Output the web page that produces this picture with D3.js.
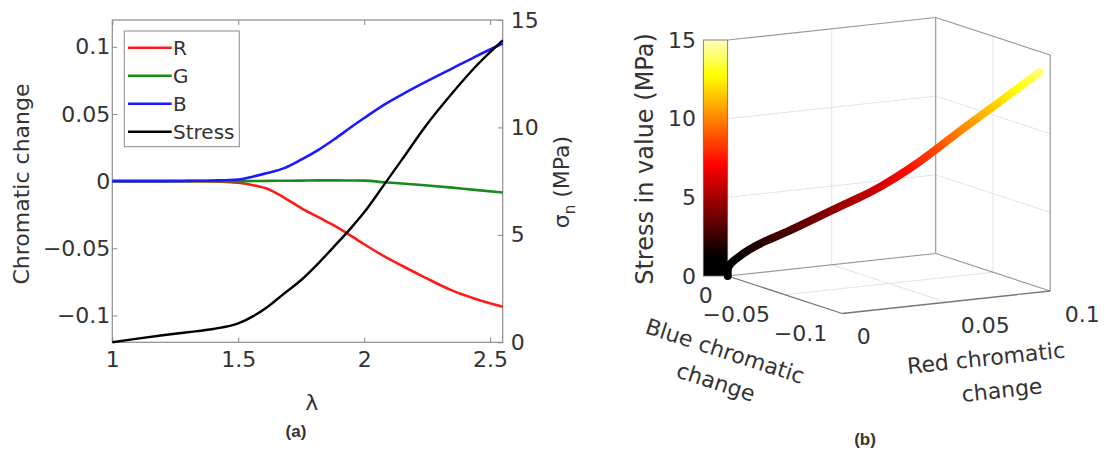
<!DOCTYPE html>
<html><head><meta charset="utf-8">
<script src="https://cdn.jsdelivr.net/npm/d3@7"></script>
<style>
body{margin:0;background:#fff;}
svg text{font-family:"DejaVu Sans",sans-serif;fill:#333;}
</style></head><body>
<svg id="c" width="1105" height="450"></svg>
<script>
// ---------- data ----------
const lambda  = [1.0, 1.1, 1.2, 1.3, 1.4, 1.5, 1.56, 1.62, 1.68, 1.75, 1.82, 1.88, 1.95, 2.0, 2.08, 2.15, 2.24, 2.35, 2.44, 2.55];
const chromR  = [0, 0, 0, 0, -0.0002, -0.0012, -0.003, -0.006, -0.012, -0.02, -0.027, -0.033, -0.041, -0.047, -0.056, -0.063, -0.0716, -0.0815, -0.0875, -0.0935];
const chromG  = [0, 0, 0, 0, 0, 0, 0.0001, 0.0002, 0.0003, 0.0004, 0.0006, 0.0006, 0.0005, 0.0004, -0.0008, -0.0018, -0.003, -0.0048, -0.0065, -0.0085];
const chromB  = [0, 0, 0, 0.0002, 0.0005, 0.0012, 0.0035, 0.0062, 0.0095, 0.016, 0.0235, 0.031, 0.0405, 0.047, 0.057, 0.0645, 0.0735, 0.084, 0.0926, 0.1025];
const stress  = [0, 0.17, 0.33, 0.47, 0.62, 0.88, 1.22, 1.68, 2.25, 2.9, 3.7, 4.45, 5.35, 6.05, 7.35, 8.5, 10.0, 11.6, 12.8, 14.05];

const xTicks      = [1, 1.5, 2, 2.5];
const yLeftTicks  = [-0.1, -0.05, 0, 0.05, 0.1];
const yRightTicks = [0, 5, 10, 15];
const legendLabels = ["R", "G", "B", "Stress"];
const blueTicks = [0, -0.05, -0.1];
const redTicks  = [0, 0.05, 0.1];
const zTicks    = [0, 5, 10, 15];

const seriesColors = ["#ff1a1a", "#1a8a1a", "#1a1aff", "#000000"];
const axisGray = "#8c8c8c";

const svg = d3.select("#c");
const fmt = d => d === 0 ? "0" : (d < 0 ? "\u2212" : "") + Math.abs(d);

// ---------- hot-like colormap (as seen in the reference colour bar) ----------
function hot(t) {
  t = Math.max(0, Math.min(1, t));
  const r = Math.max(0, Math.min(1, (t - 0.08) / 0.39));
  const g = Math.max(0, Math.min(1, (t - 0.47) / 0.38));
  const b = Math.max(0, Math.min(1, (t - 0.85) / 0.15)) * 0.75;
  return d3.rgb(r * 255, g * 255, b * 255).formatHex();
}

// ================= panel (a) =================
const L = {x0: 112.3, x1: 502.7, y0: 20, y1: 342.3};
const x = d3.scaleLinear([1, 2.55], [L.x0, L.x1]);
const yL = d3.scaleLinear([-0.12, 0.12], [L.y1, L.y0]);
const yR = d3.scaleLinear([0, 15], [L.y1, L.y0]);

const ga = svg.append("g");

function styleAxis(g, fs) {
  g.select(".domain").remove();
  g.selectAll(".tick line").attr("stroke", axisGray).attr("stroke-width", 1);
  g.selectAll(".tick text").style("font-size", fs + "px").attr("fill", "#333");
}

ga.append("g").attr("transform", `translate(0,${L.y1})`)
  .call(d3.axisBottom(x).tickValues(xTicks).tickFormat(fmt).tickSizeInner(-5).tickSizeOuter(0).tickPadding(9))
  .call(g => styleAxis(g, 22));
ga.append("g").attr("transform", `translate(0,${L.y0})`)
  .call(d3.axisTop(x).tickValues(xTicks).tickFormat("").tickSizeInner(-5).tickSizeOuter(0))
  .call(g => styleAxis(g, 22));
ga.append("g").attr("transform", `translate(${L.x0},0)`)
  .call(d3.axisLeft(yL).tickValues(yLeftTicks).tickFormat(fmt).tickSizeInner(-5).tickSizeOuter(0).tickPadding(2))
  .call(g => styleAxis(g, 22));
ga.append("g").attr("transform", `translate(${L.x1},0)`)
  .call(d3.axisRight(yR).tickValues(yRightTicks).tickFormat(fmt).tickSizeInner(-5).tickSizeOuter(0).tickPadding(8))
  .call(g => styleAxis(g, 22));

ga.append("rect").attr("x", L.x0).attr("y", L.y0).attr("width", L.x1 - L.x0).attr("height", L.y1 - L.y0)
  .attr("fill", "none").attr("stroke", axisGray).attr("stroke-width", 1.2);

const chromSeries = [chromR, chromG, chromB];
chromSeries.forEach((s, k) => {
  ga.append("path").datum(lambda.map((l, i) => [l, s[i]]))
    .attr("fill", "none").attr("stroke", seriesColors[k]).attr("stroke-width", 2.6)
    .attr("d", d3.line().x(d => x(d[0])).y(d => yL(d[1])).curve(d3.curveMonotoneX));
});
ga.append("path").datum(lambda.map((l, i) => [l, stress[i]]))
  .attr("fill", "none").attr("stroke", seriesColors[3]).attr("stroke-width", 2.4)
  .attr("d", d3.line().x(d => x(d[0])).y(d => yR(d[1])).curve(d3.curveMonotoneX));

// legend
const lg = ga.append("g");
lg.append("rect").attr("x", 124.3).attr("y", 31).attr("width", 115).attr("height", 115.7)
  .attr("fill", "#fff").attr("stroke", axisGray).attr("stroke-width", 1);
legendLabels.forEach((lab, i) => {
  const yy = 47.7 + i * 28;
  lg.append("line").attr("x1", 128).attr("x2", 171.7).attr("y1", yy).attr("y2", yy)
    .attr("stroke", seriesColors[i]).attr("stroke-width", 2.4);
  lg.append("text").attr("x", 173).attr("y", yy).attr("dy", "0.35em").style("font-size", "20px").text(lab);
});

// axis titles
ga.append("text").attr("transform", "translate(29,184) rotate(-90)").attr("text-anchor", "middle")
  .style("font-size", "22px").text("Chromatic change");
const sg = ga.append("text").attr("transform", "translate(569,182) rotate(-90)").attr("text-anchor", "middle")
  .style("font-size", "22px");
sg.append("tspan").text("σ");
sg.append("tspan").attr("dy", 6).style("font-size", "15px").text("n");
sg.append("tspan").attr("dy", -6).text(" (MPa)");
ga.append("text").attr("x", 311.7).attr("y", 410).attr("text-anchor", "middle")
  .style("font-size", "22px").text("λ");

svg.append("text").attr("x", 296).attr("y", 437).attr("text-anchor", "middle")
  .style("font-family", "'Liberation Sans', Arial, sans-serif").style("font-weight", "bold").style("font-size", "17px")
  .attr("fill", "#111").text("(a)");
svg.append("text").attr("x", 865).attr("y", 445).attr("text-anchor", "middle")
  .style("font-family", "'Liberation Sans', Arial, sans-serif").style("font-weight", "bold").style("font-size", "17px")
  .attr("fill", "#111").text("(b)");

// ================= panel (b) : 3-D view =================
const A = {x: 727.7, y: 276};
const vB = {x: 114.5, y: 37.5};
const vR = {x: 208, y: -22.5};
const H = 236;
const fb = d3.scaleLinear([0, -0.1], [0, 1]);
const fr = d3.scaleLinear([0, 0.1], [0, 1]);
const fz = d3.scaleLinear([0, 15], [0, 1]);
function proj(b, r, z) {
  const u = fb(b), v = fr(r), w = fz(z);
  return [A.x + u * vB.x + v * vR.x, A.y + u * vB.y + v * vR.y - w * H];
}
const gb = svg.append("g");
function seg(p, q, col, w) {
  gb.append("line").attr("x1", p[0]).attr("y1", p[1]).attr("x2", q[0]).attr("y2", q[1])
    .attr("stroke", col).attr("stroke-width", w);
}
const gridCol = "#e4e4e4";
// gridlines on back walls and floor
[5, 10].forEach(z => {
  seg(proj(0, 0, z), proj(0, 0.1, z), gridCol, 1);
  seg(proj(0, 0.1, z), proj(-0.1, 0.1, z), gridCol, 1);
});
seg(proj(0, 0.05, 0), proj(0, 0.05, 15), gridCol, 1);
seg(proj(-0.05, 0.1, 0), proj(-0.05, 0.1, 15), gridCol, 1);
seg(proj(0, 0.05, 0), proj(-0.1, 0.05, 0), gridCol, 1);
seg(proj(-0.05, 0, 0), proj(-0.05, 0.1, 0), gridCol, 1);

// box edges
const boxCol = "#9a9a9a";
seg(proj(0, 0, 15), proj(0, 0.1, 15), boxCol, 1.2);
seg(proj(0, 0.1, 15), proj(-0.1, 0.1, 15), boxCol, 1.2);
seg(proj(0, 0.1, 0), proj(0, 0.1, 15), boxCol, 1.2);
seg(proj(-0.1, 0.1, 0), proj(-0.1, 0.1, 15), boxCol, 1.2);
seg(proj(0, 0, 0), proj(0, 0.1, 0), boxCol, 1.2);
seg(proj(0, 0.1, 0), proj(-0.1, 0.1, 0), boxCol, 1.2);
seg(proj(0, 0, 0), proj(-0.1, 0, 0), "#777", 1.3);
seg(proj(-0.1, 0, 0), proj(-0.1, 0.1, 0), "#777", 1.3);

// colorbar
const defs = svg.append("defs");
const gv = defs.append("linearGradient").attr("id", "hotV").attr("x1", 0).attr("y1", 1).attr("x2", 0).attr("y2", 0);
d3.range(0, 1.0001, 0.025).forEach(t => gv.append("stop").attr("offset", t).attr("stop-color", hot(t)));
const cbTop = proj(0, 0, 15)[1], cbBot = proj(0, 0, 0)[1];
gb.append("rect").attr("x", 703.3).attr("y", cbTop).attr("width", A.x - 703.3).attr("height", cbBot - cbTop)
  .attr("fill", "url(#hotV)").attr("stroke", "#666").attr("stroke-width", 0.8);

// colorbar tick labels
zTicks.forEach(z => {
  gb.append("text").attr("x", 696).attr("y", proj(0, 0, z)[1]).attr("dy", "0.35em")
    .attr("text-anchor", "end").style("font-size", "22px").text(fmt(z));
});
// blue axis tick labels (front-left edge)
blueTicks.forEach(b => {
  const p = proj(b, 0, 0);
  gb.append("text").attr("x", p[0] - 15).attr("y", p[1] + 27).attr("text-anchor", "end")
    .style("font-size", "22px").text(fmt(b));
});
// red axis tick labels (front-right edge)
redTicks.forEach(r => {
  const p = proj(-0.1, r, 0);
  gb.append("text").attr("x", p[0] + 14.5).attr("y", p[1] + 30.5).attr("text-anchor", "start")
    .style("font-size", "22px").text(fmt(r));
});

// 3-D curve, coloured by stress
const pts = lambda.map((l, i) => proj(-chromB[i], -chromR[i], stress[i]));
const p0 = pts[0], pN = pts[pts.length - 1];
const dx = pN[0] - p0[0], dy = pN[1] - p0[1], dd = dx * dx + dy * dy;
const gc = defs.append("linearGradient").attr("id", "hotC").attr("gradientUnits", "userSpaceOnUse")
  .attr("x1", p0[0]).attr("y1", p0[1]).attr("x2", pN[0]).attr("y2", pN[1]);
pts.forEach((p, i) => {
  const off = Math.max(0, Math.min(1, ((p[0] - p0[0]) * dx + (p[1] - p0[1]) * dy) / dd));
  gc.append("stop").attr("offset", off).attr("stop-color", hot(stress[i] / 15));
});
gb.append("path").datum(pts).attr("fill", "none").attr("stroke", "url(#hotC)")
  .attr("stroke-width", 8).attr("stroke-linecap", "round").attr("stroke-linejoin", "round")
  .attr("d", d3.line().curve(d3.curveBasis));

// 3-D axis titles
gb.append("text").attr("transform", "translate(645,159) rotate(-90)").attr("text-anchor", "middle")
  .attr("dy", "0.35em").style("font-size", "24px").text("Stress in value (MPa)");
gb.append("text").attr("transform", "translate(725,351) rotate(18)").attr("text-anchor", "middle")
  .attr("dy", "0.35em").style("font-size", "22px").text("Blue chromatic");
gb.append("text").attr("transform", "translate(716,382) rotate(18)").attr("text-anchor", "middle")
  .attr("dy", "0.35em").style("font-size", "22px").text("change");
gb.append("text").attr("transform", "translate(986,358) rotate(-6)").attr("text-anchor", "middle")
  .attr("dy", "0.35em").style("font-size", "22px").text("Red chromatic");
gb.append("text").attr("transform", "translate(1002,390) rotate(-6)").attr("text-anchor", "middle")
  .attr("dy", "0.35em").style("font-size", "22px").text("change");
</script>
</body></html>
